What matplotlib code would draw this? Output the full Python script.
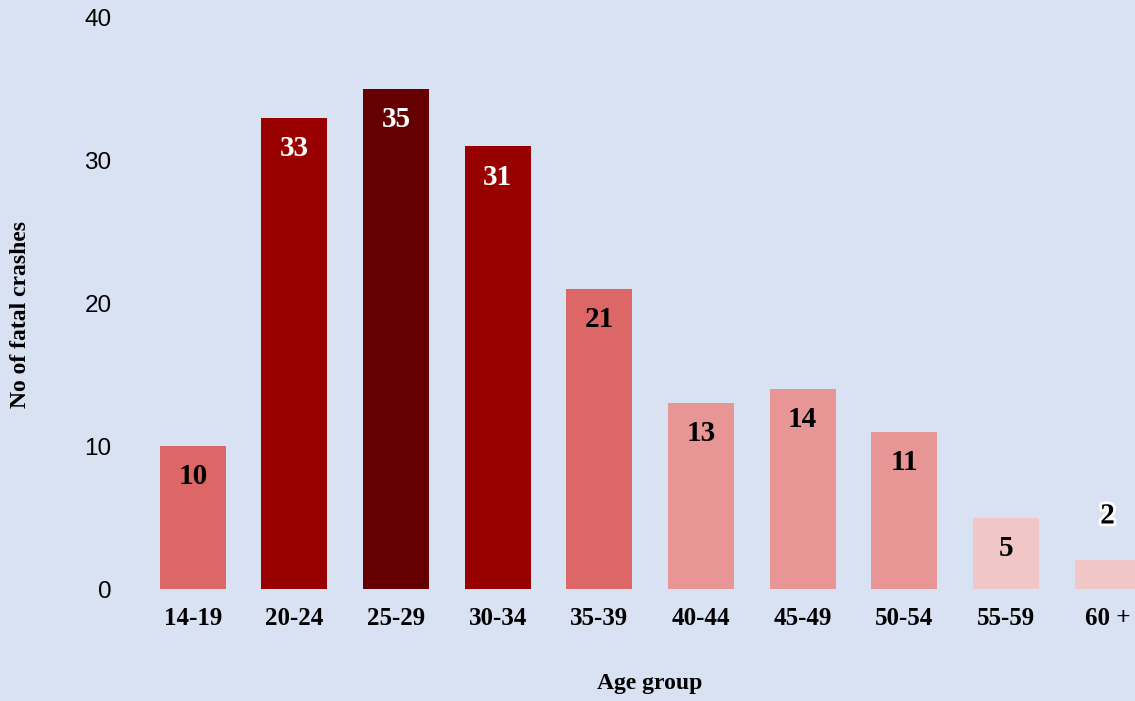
import matplotlib
matplotlib.use("Agg")
import matplotlib.pyplot as plt
import matplotlib.patheffects as pe

age_groups = ["14-19", "20-24", "25-29", "30-34", "35-39",
              "40-44", "45-49", "50-54", "55-59", "60 +"]
fatal_crashes = [10, 33, 35, 31, 21, 13, 14, 11, 5, 2]
bar_colors = ["#DD6666", "#990000", "#660000", "#990000", "#DD6666",
              "#E79595", "#E79595", "#E79595", "#F0C6C6", "#F0C6C6"]
label_colors = ["black", "white", "white", "white", "black",
                "black", "black", "black", "black", "black"]

bg = "#D9E2F3"
W, H = 1135, 701
fig = plt.figure(figsize=(W / 100, H / 100), dpi=100, facecolor=bg)
ax = fig.add_axes([142 / W, (H - 589) / H, (W - 142) / W, (589 - 18) / H])
ax.set_facecolor(bg)

x = list(range(len(age_groups)))
bars = ax.bar(x, fatal_crashes, width=0.65, color=bar_colors, zorder=2)

ax.set_xlim(-0.5, 9.27)
ax.set_ylim(0, 40)
ax.set_yticks([0, 10, 20, 30, 40])
ax.set_yticklabels(["0", "10", "20", "30", "40"],
                   fontfamily="Liberation Sans", fontsize=17.5)
ax.set_xticks(x)
ax.set_xticklabels(age_groups, fontfamily="Liberation Serif",
                   fontweight="bold", fontsize=18)
ax.tick_params(axis="y", length=0, pad=22)
ax.tick_params(axis="x", length=0, pad=13)
for s in ax.spines.values():
    s.set_visible(False)

serif = dict(fontfamily="Liberation Serif", fontweight="bold")
for xi, v, lc in zip(x, fatal_crashes, label_colors):
    if v >= 4:
        ax.annotate(str(v), (xi, v), xytext=(0, -22), textcoords="offset points",
                    ha="center", va="center", color=lc, fontsize=21, **serif)
    else:
        ax.annotate(str(v), (xi, v), xytext=(0, 32), textcoords="offset points",
                    ha="center", va="center", color="black", fontsize=21,
                    path_effects=[pe.withStroke(linewidth=4, foreground="white")],
                    **serif)

fig.text(650 / W, 1 - 684 / H, "Age group", ha="center", va="center",
         fontsize=17, **serif)
fig.text(20 / W, 1 - 315 / H, "No of fatal crashes", ha="center", va="center",
         rotation=90, fontsize=17, **serif)

fig.savefig("out.png", dpi=100, facecolor=bg)
